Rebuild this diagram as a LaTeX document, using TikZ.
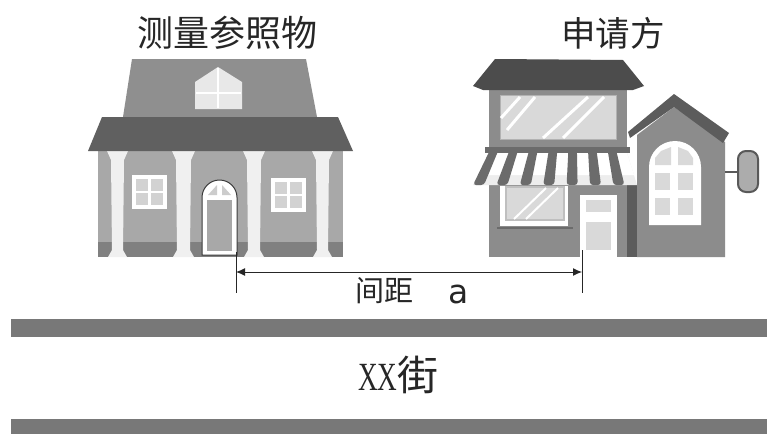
\documentclass[tikz,border=0pt]{standalone}
\usepackage{fontspec}
\usepackage{graphicx}
\setmainfont{Liberation Serif}
\newfontfamily\cjk{Noto Sans CJK SC}
\newfontfamily\latinsans{DejaVu Sans}
\usetikzlibrary{arrows.meta}
\definecolor{roofdark}{gray}{0.36}
\definecolor{roofshop}{gray}{0.3}
\definecolor{roofmid}{gray}{0.56}
\definecolor{wallA}{gray}{0.66}
\definecolor{wallB}{gray}{0.55}
\definecolor{baseA}{gray}{0.5}
\definecolor{stripe}{gray}{0.42}
\definecolor{glass}{gray}{0.85}
\definecolor{road}{gray}{0.47}
\definecolor{ink}{gray}{0.15}
\tikzset{
 label/.style={text=ink,inner sep=0pt,font=\cjk\fontsize{36}{38}\selectfont},
 labelb/.style={text=ink,inner sep=0pt,font=\cjk\fontsize{34.5}{38}\selectfont},
 small/.style={text=ink,inner sep=0pt,font=\cjk\fontsize{29}{31}\selectfont},
 roadbar/.style={fill=road,draw=none},
 pane/.style={fill=glass,draw=none},
 shine/.style={draw=white,line width=3pt},
 dim/.style={draw=ink,line width=1pt},
}
\begin{document}
\begin{tikzpicture}[x=1pt,y=-1pt]
\useasboundingbox (0,0) rectangle (767,434);
\fill[white] (0,0) rectangle (767,434);
% ---- left house
\fill[roofmid] (132,59)--(306,59)--(317,117)--(123,117)--cycle;
\fill[wallA] (98,151) rectangle (343,257);
\fill[baseA] (98,242) rectangle (343,257);
\foreach \a/\b in {112/123,177/190,248/260,317/328}{
  \fill[white!94!black] (\a-5,151)--(\b+5,151)--(\b+1,160)--(\b,250)--(\b+4,257)--(\a-4,257)--(\a,250)--(\a-1,160)--cycle;
}
\fill[gray!75!black] (102,117)--(338,117)--(353,151)--(88,151)--cycle;
% dormer
\fill[gray!18] (195,82)--(218,67)--(242,82)--(242,109)--(195,109)--cycle;
\draw[white,line width=2pt] (218,68)--(218,108) (196,93)--(241,93);
% windows
\foreach \x/\y in {132/175,271/178}{
  \fill[white] (\x,\y) rectangle (\x+35,\y+34);
  \foreach \i in {0,1}\foreach \j in {0,1}
    \fill[gray!35] (\x+4+\i*14.5,\y+4+\j*14) rectangle (\x+16+\i*14.5,\y+16+\j*14);
}
% door
\fill[white,draw=gray!45!black,line width=1pt] (202,255)--(202,197.5) arc[start angle=180,end angle=360,radius=17.5]--(237,255)--cycle;
\fill[wallA] (207,200) rectangle (232,251);
\fill[gray!40] (208,195)--(217,185)--(217,195)--cycle;
\fill[gray!40] (222,185)--(231,195)--(222,195)--cycle;
% ---- right house: annex
\fill[wallB] (637,135)--(674,107)--(725,142)--(725,257)--(637,257)--cycle;
\fill[roofdark] (628,132)--(674,94)--(729,133)--(723,143)--(674,107)--(630,138)--cycle;
\fill[white] (649,225)--(649,167) arc[start angle=180,end angle=360,radius=26]--(701,225)--cycle;
\foreach \x in {655,678}\foreach \y in {173,198}
  \fill[pane] (\x,\y) rectangle (\x+15,\y+17);
\fill[pane] (655,165)--(655,158)--(661,151)--(671,147)--(671,165)--cycle;
\fill[pane] (678,147)--(688,151)--(693,158)--(693,165)--(678,165)--cycle;
% sign
\draw[gray!70!black,line width=2.5pt] (725,172)--(738,172);
\fill[gray!65,draw=gray!70!black,line width=2pt,rounded corners=8pt] (738,151) rectangle (758,192);
% main block
\fill[wallB] (489,90) rectangle (627,257);
\fill[roofdark] (627,185) rectangle (637,257);
\fill[roofshop] (495,59)--(623,60)--(644,86)--(633,90)--(483,90)--(473,86)--cycle;
% upper glass
\fill[pane,draw=gray!60,line width=1pt] (500,95) rectangle (616,139);
\draw[shine] (501,118)--(520,97) (507,130)--(535,97);
\draw[shine] (543,138)--(588,97) (563,138)--(604,97);
% awning
\fill[white!93!black] (490,153)--(627,153)--(637,185)--(473,185)--cycle;
\fill[white] (490,153)--(627,153)--(634,175)--(479,175)--cycle;
\foreach \i in {0,...,6}{
  \pgfmathsetmacro{\ta}{490+\i*19.6}
  \pgfmathsetmacro{\tb}{\ta+8.5}
  \pgfmathsetmacro{\ba}{473+\i*23.4}
  \pgfmathsetmacro{\bb}{\ba+11}
  \fill[stripe,rounded corners=3pt] (\ta,150)--(\tb,150)--(\bb,185)--(\ba,185)--cycle;
}
\fill[stripe] (485,147) rectangle (630,153);
% lower window
\fill[white] (500,186) rectangle (568,226);
\fill[gray!50] (505,186) rectangle (565,221);
\fill[pane] (507,188) rectangle (563,219);
\draw[white,line width=2pt] (514,219)--(546,188) (526,219)--(558,188);
\fill[stripe] (497,227) rectangle (573,229);
% door
\fill[white] (580,195) rectangle (617,257);
\fill[pane] (586,200) rectangle (611,212);
\fill[pane] (586,222) rectangle (611,250);
% ---- roads
\node[roadbar,minimum width=756pt,minimum height=18pt,inner sep=0pt,anchor=north west] (roadtop) at (11,319) {};
\node[roadbar,minimum width=756pt,minimum height=15pt,inner sep=0pt,anchor=north west] (roadbottom) at (11,419) {};
% ---- dimension
\coordinate (dimLtop) at (236,252);
\coordinate (dimLbot) at (236,293);
\coordinate (dimRtop) at (582,250);
\coordinate (dimRbot) at (582,293);
\coordinate (dimL) at (236,272);
\coordinate (dimR) at (582,272);
\draw[dim] (dimLtop)--(dimLbot);
\draw[dim] (dimRtop)--(dimRbot);
\draw[dim,{Latex[length=9pt,width=8pt]}-{Latex[length=9pt,width=8pt]}] (dimL)--(dimR);
% ---- labels
\node[label] (lref) at (227,33) {测量参照物};
\node[labelb] (lapp) at (613,33) {申请方};
\node[small] (lgap) at (384,291) {间距};
\node[text=ink,inner sep=0pt,anchor=base,font=\latinsans\fontsize{33}{35}\selectfont] (la) at (459,303) {a};
\node[text=ink,inner sep=0pt,anchor=base west,font=\fontsize{40}{42}\selectfont] (lxx) at (358,390) {\scalebox{0.68}[1]{XX}{\cjk\fontsize{41}{42}\selectfont 街}};
\end{tikzpicture}
\end{document}
